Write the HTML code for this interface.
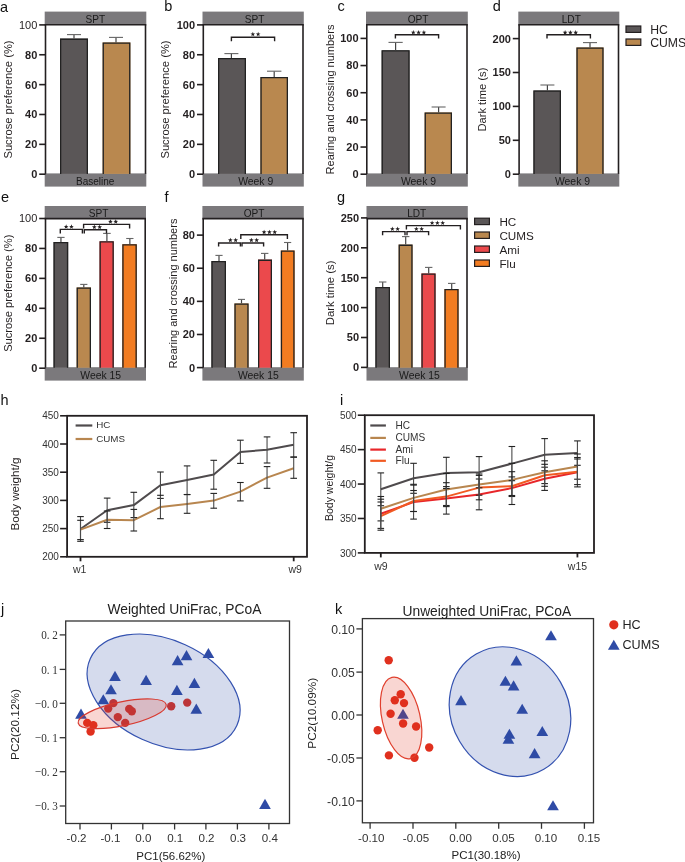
<!DOCTYPE html>
<html><head><meta charset="utf-8"><style>
html,body{margin:0;padding:0;background:#fff;}
svg{display:block;will-change:transform;}

</style></head><body>
<svg width="685" height="862" viewBox="0 0 685 862">
<rect x="44.7" y="11.6" width="101.6" height="13.2" fill="#7b797c" stroke="none" stroke-width="0"/>
<rect x="44.7" y="173.4" width="101.6" height="13.2" fill="#7b797c" stroke="none" stroke-width="0"/>
<text x="95.3" y="22.85" font-size="10.1" text-anchor="middle" font-weight="normal" fill="#1a1a1a" font-family='"Liberation Sans", sans-serif' >SPT</text>
<text x="95.2" y="184.8" font-size="10.0" text-anchor="middle" font-weight="normal" fill="#1a1a1a" font-family='"Liberation Sans", sans-serif' >Baseline</text>
<rect x="60" y="38.6" width="28" height="135.3" fill="#5a5657" stroke="none" stroke-width="0"/>
<polyline points="60.65,173.9 60.65,39.25 87.35,39.25 87.35,173.9" fill="none" stroke="#222" stroke-width="1.3"/>
<rect x="102.6" y="42.4" width="27.8" height="131.5" fill="#b9884f" stroke="none" stroke-width="0"/>
<polyline points="103.25,173.9 103.25,43.05 129.75,43.05 129.75,173.9" fill="none" stroke="#222" stroke-width="1.3"/>
<line x1="74.0" y1="34.6" x2="74.0" y2="38.6" stroke="#444" stroke-width="1.2" />
<line x1="67" y1="34.6" x2="81" y2="34.6" stroke="#666" stroke-width="1.1" />
<line x1="116.0" y1="37.4" x2="116.0" y2="42.4" stroke="#444" stroke-width="1.2" />
<line x1="109" y1="37.4" x2="123" y2="37.4" stroke="#666" stroke-width="1.1" />
<line x1="45.5" y1="24.8" x2="45.5" y2="173.9" stroke="#231f20" stroke-width="1.6" />
<line x1="145.5" y1="24.8" x2="145.5" y2="173.9" stroke="#231f20" stroke-width="1.6" />
<line x1="44.7" y1="24.8" x2="146.3" y2="24.8" stroke="#231f20" stroke-width="1.6" />
<line x1="39.2" y1="174.2" x2="45.5" y2="174.2" stroke="#231f20" stroke-width="1.6" />
<text x="37.3" y="178.1" font-size="11" text-anchor="end" font-weight="bold" fill="#231f20" font-family='"Liberation Sans", sans-serif' >0</text>
<line x1="39.2" y1="144.34" x2="45.5" y2="144.34" stroke="#231f20" stroke-width="1.6" />
<text x="37.3" y="148.24" font-size="11" text-anchor="end" font-weight="bold" fill="#231f20" font-family='"Liberation Sans", sans-serif' >20</text>
<line x1="39.2" y1="114.48" x2="45.5" y2="114.48" stroke="#231f20" stroke-width="1.6" />
<text x="37.3" y="118.38" font-size="11" text-anchor="end" font-weight="bold" fill="#231f20" font-family='"Liberation Sans", sans-serif' >40</text>
<line x1="39.2" y1="84.62" x2="45.5" y2="84.62" stroke="#231f20" stroke-width="1.6" />
<text x="37.3" y="88.52" font-size="11" text-anchor="end" font-weight="bold" fill="#231f20" font-family='"Liberation Sans", sans-serif' >60</text>
<line x1="39.2" y1="54.76" x2="45.5" y2="54.76" stroke="#231f20" stroke-width="1.6" />
<text x="37.3" y="58.66" font-size="11" text-anchor="end" font-weight="bold" fill="#231f20" font-family='"Liberation Sans", sans-serif' >80</text>
<line x1="39.2" y1="24.9" x2="45.5" y2="24.9" stroke="#231f20" stroke-width="1.6" />
<text x="37.3" y="28.8" font-size="11" text-anchor="end" font-weight="normal" fill="#231f20" font-family='"Liberation Sans", sans-serif' >100</text>
<text x="0" y="0" font-size="11.2" text-anchor="middle" font-weight="normal" fill="#231f20" font-family='"Liberation Sans", sans-serif' transform="translate(8.0,99.5) rotate(-90)" dominant-baseline="central">Sucrose preference (%)</text>
<rect x="202.5" y="11.6" width="101.3" height="13.2" fill="#7b797c" stroke="none" stroke-width="0"/>
<rect x="202.5" y="173.4" width="101.3" height="13.2" fill="#7b797c" stroke="none" stroke-width="0"/>
<text x="254.5" y="22.85" font-size="10.1" text-anchor="middle" font-weight="normal" fill="#1a1a1a" font-family='"Liberation Sans", sans-serif' >SPT</text>
<text x="255.7" y="184.8" font-size="10.4" text-anchor="middle" font-weight="normal" fill="#1a1a1a" font-family='"Liberation Sans", sans-serif' >Week 9</text>
<rect x="218" y="58" width="28" height="115.9" fill="#5a5657" stroke="none" stroke-width="0"/>
<polyline points="218.65,173.9 218.65,58.65 245.35,58.65 245.35,173.9" fill="none" stroke="#222" stroke-width="1.3"/>
<rect x="260.4" y="77" width="27.6" height="96.9" fill="#b9884f" stroke="none" stroke-width="0"/>
<polyline points="261.05,173.9 261.05,77.65 287.35,77.65 287.35,173.9" fill="none" stroke="#222" stroke-width="1.3"/>
<line x1="231.4" y1="53.6" x2="231.4" y2="58" stroke="#444" stroke-width="1.2" />
<line x1="224.4" y1="53.6" x2="238.4" y2="53.6" stroke="#666" stroke-width="1.1" />
<line x1="274.2" y1="71.2" x2="274.2" y2="77" stroke="#444" stroke-width="1.2" />
<line x1="267" y1="71.2" x2="281.4" y2="71.2" stroke="#666" stroke-width="1.1" />
<line x1="203.3" y1="24.8" x2="203.3" y2="173.9" stroke="#231f20" stroke-width="1.6" />
<line x1="303" y1="24.8" x2="303" y2="173.9" stroke="#231f20" stroke-width="1.6" />
<line x1="202.5" y1="24.8" x2="303.8" y2="24.8" stroke="#231f20" stroke-width="1.6" />
<line x1="197.0" y1="174.2" x2="203.3" y2="174.2" stroke="#231f20" stroke-width="1.6" />
<text x="195.1" y="178.1" font-size="11" text-anchor="end" font-weight="bold" fill="#231f20" font-family='"Liberation Sans", sans-serif' >0</text>
<line x1="197.0" y1="144.34" x2="203.3" y2="144.34" stroke="#231f20" stroke-width="1.6" />
<text x="195.1" y="148.24" font-size="11" text-anchor="end" font-weight="bold" fill="#231f20" font-family='"Liberation Sans", sans-serif' >20</text>
<line x1="197.0" y1="114.48" x2="203.3" y2="114.48" stroke="#231f20" stroke-width="1.6" />
<text x="195.1" y="118.38" font-size="11" text-anchor="end" font-weight="bold" fill="#231f20" font-family='"Liberation Sans", sans-serif' >40</text>
<line x1="197.0" y1="84.62" x2="203.3" y2="84.62" stroke="#231f20" stroke-width="1.6" />
<text x="195.1" y="88.52" font-size="11" text-anchor="end" font-weight="bold" fill="#231f20" font-family='"Liberation Sans", sans-serif' >60</text>
<line x1="197.0" y1="54.76" x2="203.3" y2="54.76" stroke="#231f20" stroke-width="1.6" />
<text x="195.1" y="58.66" font-size="11" text-anchor="end" font-weight="bold" fill="#231f20" font-family='"Liberation Sans", sans-serif' >80</text>
<line x1="197.0" y1="24.9" x2="203.3" y2="24.9" stroke="#231f20" stroke-width="1.6" />
<text x="195.1" y="28.8" font-size="11" text-anchor="end" font-weight="bold" fill="#231f20" font-family='"Liberation Sans", sans-serif' >100</text>
<polyline points="231.4,41.2 231.4,37.3 274.6,37.3 274.6,41.2" fill="none" stroke="#231f20" stroke-width="1.4"/>
<polygon points="252.85,31.80 253.47,33.45 255.23,33.53 253.85,34.62 254.32,36.32 252.85,35.35 251.38,36.32 251.85,34.62 250.47,33.53 252.23,33.45" fill="#231f20"/>
<polygon points="258.15,31.80 258.77,33.45 260.53,33.53 259.15,34.62 259.62,36.32 258.15,35.35 256.68,36.32 257.15,34.62 255.77,33.53 257.53,33.45" fill="#231f20"/>
<text x="0" y="0" font-size="11.2" text-anchor="middle" font-weight="normal" fill="#231f20" font-family='"Liberation Sans", sans-serif' transform="translate(165.4,99.5) rotate(-90)" dominant-baseline="central">Sucrose preference (%)</text>
<rect x="366.0" y="11.6" width="101.8" height="13.2" fill="#7b797c" stroke="none" stroke-width="0"/>
<rect x="366.0" y="173.4" width="101.8" height="13.2" fill="#7b797c" stroke="none" stroke-width="0"/>
<text x="418" y="22.85" font-size="10.1" text-anchor="middle" font-weight="normal" fill="#1a1a1a" font-family='"Liberation Sans", sans-serif' >OPT</text>
<text x="418.5" y="184.8" font-size="10.4" text-anchor="middle" font-weight="normal" fill="#1a1a1a" font-family='"Liberation Sans", sans-serif' >Week 9</text>
<rect x="381.6" y="50.3" width="28.0" height="123.6" fill="#5a5657" stroke="none" stroke-width="0"/>
<polyline points="382.25,173.9 382.25,50.95 408.95,50.95 408.95,173.9" fill="none" stroke="#222" stroke-width="1.3"/>
<rect x="424.6" y="112.4" width="27.4" height="61.5" fill="#b9884f" stroke="none" stroke-width="0"/>
<polyline points="425.25,173.9 425.25,113.05 451.35,113.05 451.35,173.9" fill="none" stroke="#222" stroke-width="1.3"/>
<line x1="395.6" y1="42.4" x2="395.6" y2="50.3" stroke="#444" stroke-width="1.2" />
<line x1="388.5" y1="42.4" x2="402.7" y2="42.4" stroke="#666" stroke-width="1.1" />
<line x1="438.6" y1="107" x2="438.6" y2="112.4" stroke="#444" stroke-width="1.2" />
<line x1="431.6" y1="107" x2="445.6" y2="107" stroke="#666" stroke-width="1.1" />
<line x1="366.8" y1="24.8" x2="366.8" y2="173.9" stroke="#231f20" stroke-width="1.6" />
<line x1="467" y1="24.8" x2="467" y2="173.9" stroke="#231f20" stroke-width="1.6" />
<line x1="366.0" y1="24.8" x2="467.8" y2="24.8" stroke="#231f20" stroke-width="1.6" />
<line x1="360.5" y1="174.2" x2="366.8" y2="174.2" stroke="#231f20" stroke-width="1.6" />
<text x="358.6" y="178.1" font-size="11" text-anchor="end" font-weight="bold" fill="#231f20" font-family='"Liberation Sans", sans-serif' >0</text>
<line x1="360.5" y1="147.04" x2="366.8" y2="147.04" stroke="#231f20" stroke-width="1.6" />
<text x="358.6" y="150.94" font-size="11" text-anchor="end" font-weight="bold" fill="#231f20" font-family='"Liberation Sans", sans-serif' >20</text>
<line x1="360.5" y1="119.88" x2="366.8" y2="119.88" stroke="#231f20" stroke-width="1.6" />
<text x="358.6" y="123.78" font-size="11" text-anchor="end" font-weight="bold" fill="#231f20" font-family='"Liberation Sans", sans-serif' >40</text>
<line x1="360.5" y1="92.72" x2="366.8" y2="92.72" stroke="#231f20" stroke-width="1.6" />
<text x="358.6" y="96.62" font-size="11" text-anchor="end" font-weight="bold" fill="#231f20" font-family='"Liberation Sans", sans-serif' >60</text>
<line x1="360.5" y1="65.56" x2="366.8" y2="65.56" stroke="#231f20" stroke-width="1.6" />
<text x="358.6" y="69.46" font-size="11" text-anchor="end" font-weight="bold" fill="#231f20" font-family='"Liberation Sans", sans-serif' >80</text>
<line x1="360.5" y1="38.4" x2="366.8" y2="38.4" stroke="#231f20" stroke-width="1.6" />
<text x="358.6" y="42.3" font-size="11" text-anchor="end" font-weight="bold" fill="#231f20" font-family='"Liberation Sans", sans-serif' >100</text>
<polyline points="395.4,38.6 395.4,34.7 438.6,34.7 438.6,38.6" fill="none" stroke="#231f20" stroke-width="1.4"/>
<polygon points="413.30,30.00 413.92,31.65 415.68,31.73 414.30,32.82 414.77,34.52 413.30,33.55 411.83,34.52 412.30,32.82 410.92,31.73 412.68,31.65" fill="#231f20"/>
<polygon points="418.60,30.00 419.22,31.65 420.98,31.73 419.60,32.82 420.07,34.52 418.60,33.55 417.13,34.52 417.60,32.82 416.22,31.73 417.98,31.65" fill="#231f20"/>
<polygon points="423.90,30.00 424.52,31.65 426.28,31.73 424.90,32.82 425.37,34.52 423.90,33.55 422.43,34.52 422.90,32.82 421.52,31.73 423.28,31.65" fill="#231f20"/>
<text x="0" y="0" font-size="11" text-anchor="middle" font-weight="normal" fill="#231f20" font-family='"Liberation Sans", sans-serif' transform="translate(330.1,99.5) rotate(-90)" dominant-baseline="central">Rearing and crossing numbers</text>
<rect x="518.3" y="11.6" width="101" height="13.2" fill="#7b797c" stroke="none" stroke-width="0"/>
<rect x="518.3" y="173.4" width="101" height="13.2" fill="#7b797c" stroke="none" stroke-width="0"/>
<text x="571.3" y="22.85" font-size="10.1" text-anchor="middle" font-weight="normal" fill="#1a1a1a" font-family='"Liberation Sans", sans-serif' >LDT</text>
<text x="572.5" y="184.8" font-size="10.4" text-anchor="middle" font-weight="normal" fill="#1a1a1a" font-family='"Liberation Sans", sans-serif' >Week 9</text>
<rect x="533.4" y="90.4" width="27.6" height="83.5" fill="#5a5657" stroke="none" stroke-width="0"/>
<polyline points="534.05,173.9 534.05,91.05 560.35,91.05 560.35,173.9" fill="none" stroke="#222" stroke-width="1.3"/>
<rect x="576.4" y="47.4" width="27.2" height="126.5" fill="#b9884f" stroke="none" stroke-width="0"/>
<polyline points="577.05,173.9 577.05,48.05 602.95,48.05 602.95,173.9" fill="none" stroke="#222" stroke-width="1.3"/>
<line x1="547.4" y1="85" x2="547.4" y2="90.4" stroke="#444" stroke-width="1.2" />
<line x1="540.4" y1="85" x2="554.4" y2="85" stroke="#666" stroke-width="1.1" />
<line x1="590.0" y1="42.6" x2="590.0" y2="47.4" stroke="#444" stroke-width="1.2" />
<line x1="583" y1="42.6" x2="597" y2="42.6" stroke="#666" stroke-width="1.1" />
<line x1="519.1" y1="24.8" x2="519.1" y2="173.9" stroke="#231f20" stroke-width="1.6" />
<line x1="618.5" y1="24.8" x2="618.5" y2="173.9" stroke="#231f20" stroke-width="1.6" />
<line x1="518.3" y1="24.8" x2="619.3" y2="24.8" stroke="#231f20" stroke-width="1.6" />
<line x1="512.8" y1="174.2" x2="519.1" y2="174.2" stroke="#231f20" stroke-width="1.6" />
<text x="510.9" y="178.1" font-size="11" text-anchor="end" font-weight="bold" fill="#231f20" font-family='"Liberation Sans", sans-serif' >0</text>
<line x1="512.8" y1="140.3" x2="519.1" y2="140.3" stroke="#231f20" stroke-width="1.6" />
<text x="510.9" y="144.2" font-size="11" text-anchor="end" font-weight="bold" fill="#231f20" font-family='"Liberation Sans", sans-serif' >50</text>
<line x1="512.8" y1="106.4" x2="519.1" y2="106.4" stroke="#231f20" stroke-width="1.6" />
<text x="510.9" y="110.3" font-size="11" text-anchor="end" font-weight="bold" fill="#231f20" font-family='"Liberation Sans", sans-serif' >100</text>
<line x1="512.8" y1="72.5" x2="519.1" y2="72.5" stroke="#231f20" stroke-width="1.6" />
<text x="510.9" y="76.4" font-size="11" text-anchor="end" font-weight="bold" fill="#231f20" font-family='"Liberation Sans", sans-serif' >150</text>
<line x1="512.8" y1="38.6" x2="519.1" y2="38.6" stroke="#231f20" stroke-width="1.6" />
<text x="510.9" y="42.5" font-size="11" text-anchor="end" font-weight="bold" fill="#231f20" font-family='"Liberation Sans", sans-serif' >200</text>
<polyline points="547,38.6 547,34.8 590.4,34.8 590.4,38.6" fill="none" stroke="#231f20" stroke-width="1.4"/>
<polygon points="565.10,30.10 565.72,31.75 567.48,31.83 566.10,32.92 566.57,34.62 565.10,33.65 563.63,34.62 564.10,32.92 562.72,31.83 564.48,31.75" fill="#231f20"/>
<polygon points="570.40,30.10 571.02,31.75 572.78,31.83 571.40,32.92 571.87,34.62 570.40,33.65 568.93,34.62 569.40,32.92 568.02,31.83 569.78,31.75" fill="#231f20"/>
<polygon points="575.70,30.10 576.32,31.75 578.08,31.83 576.70,32.92 577.17,34.62 575.70,33.65 574.23,34.62 574.70,32.92 573.32,31.83 575.08,31.75" fill="#231f20"/>
<text x="0" y="0" font-size="11.2" text-anchor="middle" font-weight="normal" fill="#231f20" font-family='"Liberation Sans", sans-serif' transform="translate(482.0,99.6) rotate(-90)" dominant-baseline="central">Dark time (s)</text>
<rect x="44.7" y="206.0" width="101.3" height="12.6" fill="#7b797c" stroke="none" stroke-width="0"/>
<rect x="44.7" y="367.2" width="101.3" height="13.4" fill="#7b797c" stroke="none" stroke-width="0"/>
<text x="98.6" y="216.65" font-size="10.1" text-anchor="middle" font-weight="normal" fill="#1a1a1a" font-family='"Liberation Sans", sans-serif' >SPT</text>
<text x="100.7" y="378.8" font-size="10.4" text-anchor="middle" font-weight="normal" fill="#1a1a1a" font-family='"Liberation Sans", sans-serif' >Week 15</text>
<rect x="53.5" y="242" width="14.7" height="125.7" fill="#5a5657" stroke="none" stroke-width="0"/>
<polyline points="54.15,367.7 54.15,242.65 67.55,242.65 67.55,367.7" fill="none" stroke="#222" stroke-width="1.3"/>
<rect x="76.6" y="287.4" width="14.4" height="80.3" fill="#b9884f" stroke="none" stroke-width="0"/>
<polyline points="77.25,367.7 77.25,288.05 90.35,288.05 90.35,367.7" fill="none" stroke="#222" stroke-width="1.3"/>
<rect x="99.5" y="241.3" width="14.3" height="126.4" fill="#eb494c" stroke="none" stroke-width="0"/>
<polyline points="100.15,367.7 100.15,241.95 113.15,241.95 113.15,367.7" fill="none" stroke="#222" stroke-width="1.3"/>
<rect x="122.3" y="244.2" width="14.5" height="123.5" fill="#f27c21" stroke="none" stroke-width="0"/>
<polyline points="122.95,367.7 122.95,244.85 136.15,244.85 136.15,367.7" fill="none" stroke="#222" stroke-width="1.3"/>
<line x1="60.95" y1="237.4" x2="60.95" y2="242" stroke="#444" stroke-width="1.2" />
<line x1="57.3" y1="237.4" x2="64.6" y2="237.4" stroke="#666" stroke-width="1.1" />
<line x1="83.8" y1="284.4" x2="83.8" y2="287.4" stroke="#444" stroke-width="1.2" />
<line x1="80.2" y1="284.4" x2="87.4" y2="284.4" stroke="#666" stroke-width="1.1" />
<line x1="106.9" y1="233.4" x2="106.9" y2="241.3" stroke="#444" stroke-width="1.2" />
<line x1="103.1" y1="233.4" x2="110.7" y2="233.4" stroke="#666" stroke-width="1.1" />
<line x1="129.85" y1="238.5" x2="129.85" y2="244.2" stroke="#444" stroke-width="1.2" />
<line x1="126.2" y1="238.5" x2="133.5" y2="238.5" stroke="#666" stroke-width="1.1" />
<line x1="45.5" y1="218.6" x2="45.5" y2="367.7" stroke="#231f20" stroke-width="1.6" />
<line x1="145.2" y1="218.6" x2="145.2" y2="367.7" stroke="#231f20" stroke-width="1.6" />
<line x1="44.7" y1="218.6" x2="146.0" y2="218.6" stroke="#231f20" stroke-width="1.6" />
<line x1="39.2" y1="368.2" x2="45.5" y2="368.2" stroke="#231f20" stroke-width="1.6" />
<text x="37.3" y="372.1" font-size="11" text-anchor="end" font-weight="bold" fill="#231f20" font-family='"Liberation Sans", sans-serif' >0</text>
<line x1="39.2" y1="338.26" x2="45.5" y2="338.26" stroke="#231f20" stroke-width="1.6" />
<text x="37.3" y="342.16" font-size="11" text-anchor="end" font-weight="bold" fill="#231f20" font-family='"Liberation Sans", sans-serif' >20</text>
<line x1="39.2" y1="308.32" x2="45.5" y2="308.32" stroke="#231f20" stroke-width="1.6" />
<text x="37.3" y="312.22" font-size="11" text-anchor="end" font-weight="bold" fill="#231f20" font-family='"Liberation Sans", sans-serif' >40</text>
<line x1="39.2" y1="278.38" x2="45.5" y2="278.38" stroke="#231f20" stroke-width="1.6" />
<text x="37.3" y="282.28" font-size="11" text-anchor="end" font-weight="bold" fill="#231f20" font-family='"Liberation Sans", sans-serif' >60</text>
<line x1="39.2" y1="248.44" x2="45.5" y2="248.44" stroke="#231f20" stroke-width="1.6" />
<text x="37.3" y="252.34" font-size="11" text-anchor="end" font-weight="bold" fill="#231f20" font-family='"Liberation Sans", sans-serif' >80</text>
<line x1="39.2" y1="218.5" x2="45.5" y2="218.5" stroke="#231f20" stroke-width="1.6" />
<text x="37.3" y="222.4" font-size="11" text-anchor="end" font-weight="normal" fill="#231f20" font-family='"Liberation Sans", sans-serif' >100</text>
<polyline points="60.3,233.5 60.3,229.4 82.4,229.4 82.4,233.5" fill="none" stroke="#231f20" stroke-width="1.4"/>
<polygon points="66.15,224.30 66.77,225.95 68.53,226.03 67.15,227.12 67.62,228.82 66.15,227.85 64.68,228.82 65.15,227.12 63.77,226.03 65.53,225.95" fill="#231f20"/>
<polygon points="71.45,224.30 72.07,225.95 73.83,226.03 72.45,227.12 72.92,228.82 71.45,227.85 69.98,228.82 70.45,227.12 69.07,226.03 70.83,225.95" fill="#231f20"/>
<polyline points="84.3,233.5 84.3,229.7 106.5,229.7 106.5,233.5" fill="none" stroke="#231f20" stroke-width="1.4"/>
<polygon points="94.35,224.60 94.97,226.25 96.73,226.33 95.35,227.42 95.82,229.12 94.35,228.15 92.88,229.12 93.35,227.42 91.97,226.33 93.73,226.25" fill="#231f20"/>
<polygon points="99.65,224.60 100.27,226.25 102.03,226.33 100.65,227.42 101.12,229.12 99.65,228.15 98.18,229.12 98.65,227.42 97.27,226.33 99.03,226.25" fill="#231f20"/>
<polyline points="83.6,228.5 83.6,224.4 129.6,224.4 129.6,228.5" fill="none" stroke="#231f20" stroke-width="1.4"/>
<polygon points="110.45,219.20 111.07,220.85 112.83,220.93 111.45,222.02 111.92,223.72 110.45,222.75 108.98,223.72 109.45,222.02 108.07,220.93 109.83,220.85" fill="#231f20"/>
<polygon points="115.75,219.20 116.37,220.85 118.13,220.93 116.75,222.02 117.22,223.72 115.75,222.75 114.28,223.72 114.75,222.02 113.37,220.93 115.13,220.85" fill="#231f20"/>
<text x="0" y="0" font-size="11.1" text-anchor="middle" font-weight="normal" fill="#231f20" font-family='"Liberation Sans", sans-serif' transform="translate(8.1,293.2) rotate(-90)" dominant-baseline="central">Sucrose preference (%)</text>
<rect x="202.4" y="206.0" width="101.4" height="12.6" fill="#7b797c" stroke="none" stroke-width="0"/>
<rect x="202.4" y="367.2" width="101.4" height="13.4" fill="#7b797c" stroke="none" stroke-width="0"/>
<text x="254" y="216.65" font-size="10.1" text-anchor="middle" font-weight="normal" fill="#1a1a1a" font-family='"Liberation Sans", sans-serif' >OPT</text>
<text x="258.3" y="378.8" font-size="10.4" text-anchor="middle" font-weight="normal" fill="#1a1a1a" font-family='"Liberation Sans", sans-serif' >Week 15</text>
<rect x="211.4" y="261" width="14.6" height="106.7" fill="#5a5657" stroke="none" stroke-width="0"/>
<polyline points="212.05,367.7 212.05,261.65 225.35,261.65 225.35,367.7" fill="none" stroke="#222" stroke-width="1.3"/>
<rect x="234.4" y="303.4" width="14.2" height="64.3" fill="#b9884f" stroke="none" stroke-width="0"/>
<polyline points="235.05,367.7 235.05,304.05 247.95,304.05 247.95,367.7" fill="none" stroke="#222" stroke-width="1.3"/>
<rect x="258" y="259.6" width="14" height="108.1" fill="#eb494c" stroke="none" stroke-width="0"/>
<polyline points="258.65,367.7 258.65,260.25 271.35,260.25 271.35,367.7" fill="none" stroke="#222" stroke-width="1.3"/>
<rect x="280.8" y="250.5" width="13.8" height="117.2" fill="#f27c21" stroke="none" stroke-width="0"/>
<polyline points="281.45,367.7 281.45,251.15 293.95,251.15 293.95,367.7" fill="none" stroke="#222" stroke-width="1.3"/>
<line x1="219.0" y1="255.4" x2="219.0" y2="261" stroke="#444" stroke-width="1.2" />
<line x1="215.4" y1="255.4" x2="222.6" y2="255.4" stroke="#666" stroke-width="1.1" />
<line x1="241.5" y1="299.4" x2="241.5" y2="303.4" stroke="#444" stroke-width="1.2" />
<line x1="238" y1="299.4" x2="245" y2="299.4" stroke="#666" stroke-width="1.1" />
<line x1="264.7" y1="253.4" x2="264.7" y2="259.6" stroke="#444" stroke-width="1.2" />
<line x1="261" y1="253.4" x2="268.4" y2="253.4" stroke="#666" stroke-width="1.1" />
<line x1="287.6" y1="242.5" x2="287.6" y2="250.5" stroke="#444" stroke-width="1.2" />
<line x1="284" y1="242.5" x2="291.2" y2="242.5" stroke="#666" stroke-width="1.1" />
<line x1="203.2" y1="218.6" x2="203.2" y2="367.7" stroke="#231f20" stroke-width="1.6" />
<line x1="303" y1="218.6" x2="303" y2="367.7" stroke="#231f20" stroke-width="1.6" />
<line x1="202.4" y1="218.6" x2="303.8" y2="218.6" stroke="#231f20" stroke-width="1.6" />
<line x1="196.9" y1="367.6" x2="203.2" y2="367.6" stroke="#231f20" stroke-width="1.6" />
<text x="195.0" y="371.5" font-size="11" text-anchor="end" font-weight="bold" fill="#231f20" font-family='"Liberation Sans", sans-serif' >0</text>
<line x1="196.9" y1="334.48" x2="203.2" y2="334.48" stroke="#231f20" stroke-width="1.6" />
<text x="195.0" y="338.38" font-size="11" text-anchor="end" font-weight="bold" fill="#231f20" font-family='"Liberation Sans", sans-serif' >20</text>
<line x1="196.9" y1="301.36" x2="203.2" y2="301.36" stroke="#231f20" stroke-width="1.6" />
<text x="195.0" y="305.26" font-size="11" text-anchor="end" font-weight="bold" fill="#231f20" font-family='"Liberation Sans", sans-serif' >40</text>
<line x1="196.9" y1="268.24" x2="203.2" y2="268.24" stroke="#231f20" stroke-width="1.6" />
<text x="195.0" y="272.14" font-size="11" text-anchor="end" font-weight="bold" fill="#231f20" font-family='"Liberation Sans", sans-serif' >60</text>
<line x1="196.9" y1="235.12" x2="203.2" y2="235.12" stroke="#231f20" stroke-width="1.6" />
<text x="195.0" y="239.02" font-size="11" text-anchor="end" font-weight="bold" fill="#231f20" font-family='"Liberation Sans", sans-serif' >80</text>
<polyline points="218.6,246.6 218.6,243 240.4,243 240.4,246.6" fill="none" stroke="#231f20" stroke-width="1.4"/>
<polygon points="230.35,237.70 230.97,239.35 232.73,239.43 231.35,240.52 231.82,242.22 230.35,241.25 228.88,242.22 229.35,240.52 227.97,239.43 229.73,239.35" fill="#231f20"/>
<polygon points="235.65,237.70 236.27,239.35 238.03,239.43 236.65,240.52 237.12,242.22 235.65,241.25 234.18,242.22 234.65,240.52 233.27,239.43 235.03,239.35" fill="#231f20"/>
<polyline points="242,246.6 242,243 263.6,243 263.6,246.6" fill="none" stroke="#231f20" stroke-width="1.4"/>
<polygon points="251.35,237.70 251.97,239.35 253.73,239.43 252.35,240.52 252.82,242.22 251.35,241.25 249.88,242.22 250.35,240.52 248.97,239.43 250.73,239.35" fill="#231f20"/>
<polygon points="256.65,237.70 257.27,239.35 259.03,239.43 257.65,240.52 258.12,242.22 256.65,241.25 255.18,242.22 255.65,240.52 254.27,239.43 256.03,239.35" fill="#231f20"/>
<polyline points="240.8,239 240.8,234.7 287.4,234.7 287.4,239" fill="none" stroke="#231f20" stroke-width="1.4"/>
<polygon points="264.10,229.70 264.72,231.35 266.48,231.43 265.10,232.52 265.57,234.22 264.10,233.25 262.63,234.22 263.10,232.52 261.72,231.43 263.48,231.35" fill="#231f20"/>
<polygon points="269.40,229.70 270.02,231.35 271.78,231.43 270.40,232.52 270.87,234.22 269.40,233.25 267.93,234.22 268.40,232.52 267.02,231.43 268.78,231.35" fill="#231f20"/>
<polygon points="274.70,229.70 275.32,231.35 277.08,231.43 275.70,232.52 276.17,234.22 274.70,233.25 273.23,234.22 273.70,232.52 272.32,231.43 274.08,231.35" fill="#231f20"/>
<text x="0" y="0" font-size="11" text-anchor="middle" font-weight="normal" fill="#231f20" font-family='"Liberation Sans", sans-serif' transform="translate(173.0,293.5) rotate(-90)" dominant-baseline="central">Rearing and crossing numbers</text>
<rect x="366.5" y="206.0" width="101.3" height="12.6" fill="#7b797c" stroke="none" stroke-width="0"/>
<rect x="366.5" y="367.2" width="101.3" height="13.4" fill="#7b797c" stroke="none" stroke-width="0"/>
<text x="416.7" y="216.65" font-size="10.1" text-anchor="middle" font-weight="normal" fill="#1a1a1a" font-family='"Liberation Sans", sans-serif' >LDT</text>
<text x="419.5" y="378.8" font-size="10.4" text-anchor="middle" font-weight="normal" fill="#1a1a1a" font-family='"Liberation Sans", sans-serif' >Week 15</text>
<rect x="375.4" y="287" width="14.6" height="80.7" fill="#5a5657" stroke="none" stroke-width="0"/>
<polyline points="376.05,367.7 376.05,287.65 389.35,287.65 389.35,367.7" fill="none" stroke="#222" stroke-width="1.3"/>
<rect x="398.6" y="244.6" width="14.0" height="123.1" fill="#b9884f" stroke="none" stroke-width="0"/>
<polyline points="399.25,367.7 399.25,245.25 411.95,245.25 411.95,367.7" fill="none" stroke="#222" stroke-width="1.3"/>
<rect x="421.4" y="273.4" width="14.2" height="94.3" fill="#eb494c" stroke="none" stroke-width="0"/>
<polyline points="422.05,367.7 422.05,274.05 434.95,274.05 434.95,367.7" fill="none" stroke="#222" stroke-width="1.3"/>
<rect x="444.4" y="289" width="14.2" height="78.7" fill="#f27c21" stroke="none" stroke-width="0"/>
<polyline points="445.05,367.7 445.05,289.65 457.95,289.65 457.95,367.7" fill="none" stroke="#222" stroke-width="1.3"/>
<line x1="382.7" y1="282" x2="382.7" y2="287" stroke="#444" stroke-width="1.2" />
<line x1="379" y1="282" x2="386.4" y2="282" stroke="#666" stroke-width="1.1" />
<line x1="405.7" y1="236.6" x2="405.7" y2="244.6" stroke="#444" stroke-width="1.2" />
<line x1="402" y1="236.6" x2="409.4" y2="236.6" stroke="#666" stroke-width="1.1" />
<line x1="428.7" y1="267.4" x2="428.7" y2="273.4" stroke="#444" stroke-width="1.2" />
<line x1="425" y1="267.4" x2="432.4" y2="267.4" stroke="#666" stroke-width="1.1" />
<line x1="451.7" y1="283.4" x2="451.7" y2="289" stroke="#444" stroke-width="1.2" />
<line x1="448" y1="283.4" x2="455.4" y2="283.4" stroke="#666" stroke-width="1.1" />
<line x1="367.3" y1="218.6" x2="367.3" y2="367.7" stroke="#231f20" stroke-width="1.6" />
<line x1="467" y1="218.6" x2="467" y2="367.7" stroke="#231f20" stroke-width="1.6" />
<line x1="366.5" y1="218.6" x2="467.8" y2="218.6" stroke="#231f20" stroke-width="1.6" />
<line x1="361.0" y1="367.4" x2="367.3" y2="367.4" stroke="#231f20" stroke-width="1.6" />
<text x="359.1" y="371.3" font-size="11" text-anchor="end" font-weight="bold" fill="#231f20" font-family='"Liberation Sans", sans-serif' >0</text>
<line x1="361.0" y1="337.5" x2="367.3" y2="337.5" stroke="#231f20" stroke-width="1.6" />
<text x="359.1" y="341.4" font-size="11" text-anchor="end" font-weight="bold" fill="#231f20" font-family='"Liberation Sans", sans-serif' >50</text>
<line x1="361.0" y1="307.6" x2="367.3" y2="307.6" stroke="#231f20" stroke-width="1.6" />
<text x="359.1" y="311.5" font-size="11" text-anchor="end" font-weight="bold" fill="#231f20" font-family='"Liberation Sans", sans-serif' >100</text>
<line x1="361.0" y1="277.7" x2="367.3" y2="277.7" stroke="#231f20" stroke-width="1.6" />
<text x="359.1" y="281.6" font-size="11" text-anchor="end" font-weight="bold" fill="#231f20" font-family='"Liberation Sans", sans-serif' >150</text>
<line x1="361.0" y1="247.8" x2="367.3" y2="247.8" stroke="#231f20" stroke-width="1.6" />
<text x="359.1" y="251.7" font-size="11" text-anchor="end" font-weight="bold" fill="#231f20" font-family='"Liberation Sans", sans-serif' >200</text>
<line x1="361.0" y1="217.9" x2="367.3" y2="217.9" stroke="#231f20" stroke-width="1.6" />
<text x="359.1" y="221.8" font-size="11" text-anchor="end" font-weight="bold" fill="#231f20" font-family='"Liberation Sans", sans-serif' >250</text>
<polyline points="382.6,235.2 382.6,231.6 405,231.6 405,235.2" fill="none" stroke="#231f20" stroke-width="1.4"/>
<polygon points="392.35,226.50 392.97,228.15 394.73,228.23 393.35,229.32 393.82,231.02 392.35,230.05 390.88,231.02 391.35,229.32 389.97,228.23 391.73,228.15" fill="#231f20"/>
<polygon points="397.65,226.50 398.27,228.15 400.03,228.23 398.65,229.32 399.12,231.02 397.65,230.05 396.18,231.02 396.65,229.32 395.27,228.23 397.03,228.15" fill="#231f20"/>
<polyline points="407,235.2 407,231.6 428.6,231.6 428.6,235.2" fill="none" stroke="#231f20" stroke-width="1.4"/>
<polygon points="416.35,226.50 416.97,228.15 418.73,228.23 417.35,229.32 417.82,231.02 416.35,230.05 414.88,231.02 415.35,229.32 413.97,228.23 415.73,228.15" fill="#231f20"/>
<polygon points="421.65,226.50 422.27,228.15 424.03,228.23 422.65,229.32 423.12,231.02 421.65,230.05 420.18,231.02 420.65,229.32 419.27,228.23 421.03,228.15" fill="#231f20"/>
<polyline points="406.4,229.6 406.4,225.6 460.4,225.6 460.4,229.6" fill="none" stroke="#231f20" stroke-width="1.4"/>
<polygon points="432.10,220.50 432.72,222.15 434.48,222.23 433.10,223.32 433.57,225.02 432.10,224.05 430.63,225.02 431.10,223.32 429.72,222.23 431.48,222.15" fill="#231f20"/>
<polygon points="437.40,220.50 438.02,222.15 439.78,222.23 438.40,223.32 438.87,225.02 437.40,224.05 435.93,225.02 436.40,223.32 435.02,222.23 436.78,222.15" fill="#231f20"/>
<polygon points="442.70,220.50 443.32,222.15 445.08,222.23 443.70,223.32 444.17,225.02 442.70,224.05 441.23,225.02 441.70,223.32 440.32,222.23 442.08,222.15" fill="#231f20"/>
<text x="0" y="0" font-size="11.3" text-anchor="middle" font-weight="normal" fill="#231f20" font-family='"Liberation Sans", sans-serif' transform="translate(329.8,292.9) rotate(-90)" dominant-baseline="central">Dark time (s)</text>
<rect x="626.0" y="26.0" width="14.8" height="6.4" fill="#5a5657" stroke="#231f20" stroke-width="1.2"/>
<text x="650.2" y="33.7" font-size="12.2" text-anchor="start" font-weight="normal" fill="#231f20" font-family='"Liberation Sans", sans-serif' >HC</text>
<rect x="626.0" y="39.0" width="14.8" height="6.4" fill="#b9884f" stroke="#231f20" stroke-width="1.2"/>
<text x="650.2" y="46.7" font-size="12.2" text-anchor="start" font-weight="normal" fill="#231f20" font-family='"Liberation Sans", sans-serif' >CUMS</text>
<rect x="474.6" y="218.2" width="14.8" height="6.4" fill="#5a5657" stroke="#231f20" stroke-width="1.2"/>
<text x="499.4" y="225.9" font-size="11.7" text-anchor="start" font-weight="normal" fill="#231f20" font-family='"Liberation Sans", sans-serif' >HC</text>
<rect x="474.6" y="232.0" width="14.8" height="6.4" fill="#b9884f" stroke="#231f20" stroke-width="1.2"/>
<text x="499.4" y="239.7" font-size="11.7" text-anchor="start" font-weight="normal" fill="#231f20" font-family='"Liberation Sans", sans-serif' >CUMS</text>
<rect x="474.6" y="246.0" width="14.8" height="6.4" fill="#eb494c" stroke="#231f20" stroke-width="1.2"/>
<text x="499.4" y="253.7" font-size="11.7" text-anchor="start" font-weight="normal" fill="#231f20" font-family='"Liberation Sans", sans-serif' >Ami</text>
<rect x="474.6" y="260.0" width="14.8" height="6.4" fill="#f27c21" stroke="#231f20" stroke-width="1.2"/>
<text x="499.4" y="267.7" font-size="11.7" text-anchor="start" font-weight="normal" fill="#231f20" font-family='"Liberation Sans", sans-serif' >Flu</text>
<polyline points="80.5,529.0 107.2,510.3 133.8,505.1 160.4,485.3 187.1,480.1 213.8,474.6 240.4,451.9 267.0,449.8 293.7,444.8" fill="none" stroke="#4f4b4d" stroke-width="2.0" stroke-linejoin="round"/>
<polyline points="80.5,529.6 107.2,519.7 133.8,520.2 160.4,507.0 187.1,504.0 213.8,500.6 240.4,491.6 267.0,477.6 293.7,468.2" fill="none" stroke="#b8864f" stroke-width="2.0" stroke-linejoin="round"/>
<line x1="80.5" y1="516.6" x2="80.5" y2="541.3" stroke="#4a4a4a" stroke-width="1.1" />
<line x1="77.2" y1="516.6" x2="83.8" y2="516.6" stroke="#222" stroke-width="1.1" />
<line x1="77.2" y1="541.3" x2="83.8" y2="541.3" stroke="#222" stroke-width="1.1" />
<line x1="107.15" y1="498.1" x2="107.15" y2="522.3" stroke="#4a4a4a" stroke-width="1.1" />
<line x1="103.85" y1="498.1" x2="110.45" y2="498.1" stroke="#222" stroke-width="1.1" />
<line x1="103.85" y1="522.3" x2="110.45" y2="522.3" stroke="#222" stroke-width="1.1" />
<line x1="133.8" y1="492.3" x2="133.8" y2="517.6" stroke="#4a4a4a" stroke-width="1.1" />
<line x1="130.5" y1="492.3" x2="137.1" y2="492.3" stroke="#222" stroke-width="1.1" />
<line x1="130.5" y1="517.6" x2="137.1" y2="517.6" stroke="#222" stroke-width="1.1" />
<line x1="160.45" y1="472" x2="160.45" y2="498.4" stroke="#4a4a4a" stroke-width="1.1" />
<line x1="157.15" y1="472" x2="163.75" y2="472" stroke="#222" stroke-width="1.1" />
<line x1="157.15" y1="498.4" x2="163.75" y2="498.4" stroke="#222" stroke-width="1.1" />
<line x1="187.1" y1="465.9" x2="187.1" y2="494.5" stroke="#4a4a4a" stroke-width="1.1" />
<line x1="183.8" y1="465.9" x2="190.4" y2="465.9" stroke="#222" stroke-width="1.1" />
<line x1="183.8" y1="494.5" x2="190.4" y2="494.5" stroke="#222" stroke-width="1.1" />
<line x1="213.75" y1="460.3" x2="213.75" y2="489.2" stroke="#4a4a4a" stroke-width="1.1" />
<line x1="210.45" y1="460.3" x2="217.05" y2="460.3" stroke="#222" stroke-width="1.1" />
<line x1="210.45" y1="489.2" x2="217.05" y2="489.2" stroke="#222" stroke-width="1.1" />
<line x1="240.4" y1="440.2" x2="240.4" y2="463.4" stroke="#4a4a4a" stroke-width="1.1" />
<line x1="237.1" y1="440.2" x2="243.7" y2="440.2" stroke="#222" stroke-width="1.1" />
<line x1="237.1" y1="463.4" x2="243.7" y2="463.4" stroke="#222" stroke-width="1.1" />
<line x1="267.05" y1="436.9" x2="267.05" y2="463" stroke="#4a4a4a" stroke-width="1.1" />
<line x1="263.75" y1="436.9" x2="270.35" y2="436.9" stroke="#222" stroke-width="1.1" />
<line x1="263.75" y1="463" x2="270.35" y2="463" stroke="#222" stroke-width="1.1" />
<line x1="293.7" y1="432.7" x2="293.7" y2="457" stroke="#4a4a4a" stroke-width="1.1" />
<line x1="290.4" y1="432.7" x2="297.0" y2="432.7" stroke="#222" stroke-width="1.1" />
<line x1="290.4" y1="457" x2="297.0" y2="457" stroke="#222" stroke-width="1.1" />
<line x1="80.5" y1="520.3" x2="80.5" y2="539.6" stroke="#4a4a4a" stroke-width="1.1" />
<line x1="77.2" y1="520.3" x2="83.8" y2="520.3" stroke="#222" stroke-width="1.1" />
<line x1="77.2" y1="539.6" x2="83.8" y2="539.6" stroke="#222" stroke-width="1.1" />
<line x1="107.15" y1="511" x2="107.15" y2="528.5" stroke="#4a4a4a" stroke-width="1.1" />
<line x1="103.85" y1="511" x2="110.45" y2="511" stroke="#222" stroke-width="1.1" />
<line x1="103.85" y1="528.5" x2="110.45" y2="528.5" stroke="#222" stroke-width="1.1" />
<line x1="133.8" y1="509.4" x2="133.8" y2="531" stroke="#4a4a4a" stroke-width="1.1" />
<line x1="130.5" y1="509.4" x2="137.1" y2="509.4" stroke="#222" stroke-width="1.1" />
<line x1="130.5" y1="531" x2="137.1" y2="531" stroke="#222" stroke-width="1.1" />
<line x1="160.45" y1="495.3" x2="160.45" y2="518.7" stroke="#4a4a4a" stroke-width="1.1" />
<line x1="157.15" y1="495.3" x2="163.75" y2="495.3" stroke="#222" stroke-width="1.1" />
<line x1="157.15" y1="518.7" x2="163.75" y2="518.7" stroke="#222" stroke-width="1.1" />
<line x1="187.1" y1="494.6" x2="187.1" y2="513.3" stroke="#4a4a4a" stroke-width="1.1" />
<line x1="183.8" y1="494.6" x2="190.4" y2="494.6" stroke="#222" stroke-width="1.1" />
<line x1="183.8" y1="513.3" x2="190.4" y2="513.3" stroke="#222" stroke-width="1.1" />
<line x1="213.75" y1="493.4" x2="213.75" y2="508.2" stroke="#4a4a4a" stroke-width="1.1" />
<line x1="210.45" y1="493.4" x2="217.05" y2="493.4" stroke="#222" stroke-width="1.1" />
<line x1="210.45" y1="508.2" x2="217.05" y2="508.2" stroke="#222" stroke-width="1.1" />
<line x1="240.4" y1="482.5" x2="240.4" y2="500.9" stroke="#4a4a4a" stroke-width="1.1" />
<line x1="237.1" y1="482.5" x2="243.7" y2="482.5" stroke="#222" stroke-width="1.1" />
<line x1="237.1" y1="500.9" x2="243.7" y2="500.9" stroke="#222" stroke-width="1.1" />
<line x1="267.05" y1="466.6" x2="267.05" y2="488.3" stroke="#4a4a4a" stroke-width="1.1" />
<line x1="263.75" y1="466.6" x2="270.35" y2="466.6" stroke="#222" stroke-width="1.1" />
<line x1="263.75" y1="488.3" x2="270.35" y2="488.3" stroke="#222" stroke-width="1.1" />
<line x1="293.7" y1="457.2" x2="293.7" y2="478.3" stroke="#4a4a4a" stroke-width="1.1" />
<line x1="290.4" y1="457.2" x2="297.0" y2="457.2" stroke="#222" stroke-width="1.1" />
<line x1="290.4" y1="478.3" x2="297.0" y2="478.3" stroke="#222" stroke-width="1.1" />
<rect x="67.1" y="415.8" width="239.9" height="141" fill="none" stroke="#231f20" stroke-width="1.8"/>
<line x1="60.1" y1="556.8" x2="67.1" y2="556.8" stroke="#231f20" stroke-width="1.6" />
<text x="58.9" y="560.4" font-size="10" text-anchor="end" font-weight="normal" fill="#333" font-family='"Liberation Sans", sans-serif' >200</text>
<line x1="60.1" y1="528.6" x2="67.1" y2="528.6" stroke="#231f20" stroke-width="1.6" />
<text x="58.9" y="532.2" font-size="10" text-anchor="end" font-weight="normal" fill="#333" font-family='"Liberation Sans", sans-serif' >250</text>
<line x1="60.1" y1="500.4" x2="67.1" y2="500.4" stroke="#231f20" stroke-width="1.6" />
<text x="58.9" y="504.0" font-size="10" text-anchor="end" font-weight="normal" fill="#333" font-family='"Liberation Sans", sans-serif' >300</text>
<line x1="60.1" y1="472.2" x2="67.1" y2="472.2" stroke="#231f20" stroke-width="1.6" />
<text x="58.9" y="475.8" font-size="10" text-anchor="end" font-weight="normal" fill="#333" font-family='"Liberation Sans", sans-serif' >350</text>
<line x1="60.1" y1="444.0" x2="67.1" y2="444.0" stroke="#231f20" stroke-width="1.6" />
<text x="58.9" y="447.6" font-size="10" text-anchor="end" font-weight="normal" fill="#333" font-family='"Liberation Sans", sans-serif' >400</text>
<line x1="60.1" y1="415.8" x2="67.1" y2="415.8" stroke="#231f20" stroke-width="1.6" />
<text x="58.9" y="419.4" font-size="10" text-anchor="end" font-weight="normal" fill="#333" font-family='"Liberation Sans", sans-serif' >450</text>
<line x1="80.5" y1="556.8" x2="80.5" y2="561.3" stroke="#231f20" stroke-width="1.8" />
<text x="79.6" y="572.5" font-size="10.5" text-anchor="middle" font-weight="normal" fill="#333" font-family='"Liberation Sans", sans-serif' >w1</text>
<line x1="293.7" y1="556.8" x2="293.7" y2="561.3" stroke="#231f20" stroke-width="1.8" />
<text x="295.1" y="572.6" font-size="10.5" text-anchor="middle" font-weight="normal" fill="#333" font-family='"Liberation Sans", sans-serif' >w9</text>
<line x1="75.6" y1="425.5" x2="92.3" y2="425.5" stroke="#4f4b4d" stroke-width="2.2" />
<text x="96.2" y="428.1" font-size="9.8" text-anchor="start" font-weight="normal" fill="#333" font-family='"Liberation Sans", sans-serif' >HC</text>
<line x1="75.6" y1="439" x2="92.3" y2="439" stroke="#b8864f" stroke-width="2.2" />
<text x="96.2" y="441.6" font-size="9.8" text-anchor="start" font-weight="normal" fill="#333" font-family='"Liberation Sans", sans-serif' >CUMS</text>
<text x="0" y="0" font-size="11.6" text-anchor="middle" font-weight="normal" fill="#231f20" font-family='"Liberation Sans", sans-serif' transform="translate(14.7,494) rotate(-90)" dominant-baseline="central">Body weight/g</text>
<polyline points="380.8,489.3 413.6,478.3 446.3,472.9 479.1,472.2 511.9,463.6 544.7,454.7 577.4,453.1" fill="none" stroke="#4f4b4d" stroke-width="2.0" stroke-linejoin="round"/>
<polyline points="380.8,508.7 413.6,497.9 446.3,489.5 479.1,484.6 511.9,479.9 544.7,472.2 577.4,466.6" fill="none" stroke="#b8864f" stroke-width="2.0" stroke-linejoin="round"/>
<polyline points="380.8,513.8 413.6,502.1 446.3,498.4 479.1,494.4 511.9,488.1 544.7,478.8 577.4,472.2" fill="none" stroke="#e8262a" stroke-width="2.0" stroke-linejoin="round"/>
<polyline points="380.8,516.1 413.6,501.0 446.3,496.6 479.1,487.6 511.9,486.2 544.7,475.3 577.4,471.8" fill="none" stroke="#f15a22" stroke-width="2.0" stroke-linejoin="round"/>
<line x1="380.8" y1="472.9" x2="380.8" y2="505.7" stroke="#4a4a4a" stroke-width="1.1" />
<line x1="377.5" y1="472.9" x2="384.1" y2="472.9" stroke="#222" stroke-width="1.1" />
<line x1="377.5" y1="505.7" x2="384.1" y2="505.7" stroke="#222" stroke-width="1.1" />
<line x1="413.57" y1="463.3" x2="413.57" y2="493.3" stroke="#4a4a4a" stroke-width="1.1" />
<line x1="410.27" y1="463.3" x2="416.87" y2="463.3" stroke="#222" stroke-width="1.1" />
<line x1="410.27" y1="493.3" x2="416.87" y2="493.3" stroke="#222" stroke-width="1.1" />
<line x1="446.34" y1="457.3" x2="446.34" y2="488.5" stroke="#4a4a4a" stroke-width="1.1" />
<line x1="443.04" y1="457.3" x2="449.64" y2="457.3" stroke="#222" stroke-width="1.1" />
<line x1="443.04" y1="488.5" x2="449.64" y2="488.5" stroke="#222" stroke-width="1.1" />
<line x1="479.11" y1="456.6" x2="479.11" y2="487.8" stroke="#4a4a4a" stroke-width="1.1" />
<line x1="475.81" y1="456.6" x2="482.41" y2="456.6" stroke="#222" stroke-width="1.1" />
<line x1="475.81" y1="487.8" x2="482.41" y2="487.8" stroke="#222" stroke-width="1.1" />
<line x1="511.88" y1="446.5" x2="511.88" y2="480.7" stroke="#4a4a4a" stroke-width="1.1" />
<line x1="508.58" y1="446.5" x2="515.18" y2="446.5" stroke="#222" stroke-width="1.1" />
<line x1="508.58" y1="480.7" x2="515.18" y2="480.7" stroke="#222" stroke-width="1.1" />
<line x1="544.65" y1="438.6" x2="544.65" y2="470.8" stroke="#4a4a4a" stroke-width="1.1" />
<line x1="541.35" y1="438.6" x2="547.95" y2="438.6" stroke="#222" stroke-width="1.1" />
<line x1="541.35" y1="470.8" x2="547.95" y2="470.8" stroke="#222" stroke-width="1.1" />
<line x1="577.42" y1="440.9" x2="577.42" y2="465.3" stroke="#4a4a4a" stroke-width="1.1" />
<line x1="574.12" y1="440.9" x2="580.72" y2="440.9" stroke="#222" stroke-width="1.1" />
<line x1="574.12" y1="465.3" x2="580.72" y2="465.3" stroke="#222" stroke-width="1.1" />
<line x1="380.8" y1="496.5" x2="380.8" y2="520.9" stroke="#4a4a4a" stroke-width="1.1" />
<line x1="377.5" y1="496.5" x2="384.1" y2="496.5" stroke="#222" stroke-width="1.1" />
<line x1="377.5" y1="520.9" x2="384.1" y2="520.9" stroke="#222" stroke-width="1.1" />
<line x1="413.57" y1="484.3" x2="413.57" y2="511.5" stroke="#4a4a4a" stroke-width="1.1" />
<line x1="410.27" y1="484.3" x2="416.87" y2="484.3" stroke="#222" stroke-width="1.1" />
<line x1="410.27" y1="511.5" x2="416.87" y2="511.5" stroke="#222" stroke-width="1.1" />
<line x1="446.34" y1="473.5" x2="446.34" y2="505.5" stroke="#4a4a4a" stroke-width="1.1" />
<line x1="443.04" y1="473.5" x2="449.64" y2="473.5" stroke="#222" stroke-width="1.1" />
<line x1="443.04" y1="505.5" x2="449.64" y2="505.5" stroke="#222" stroke-width="1.1" />
<line x1="479.11" y1="474.0" x2="479.11" y2="495.2" stroke="#4a4a4a" stroke-width="1.1" />
<line x1="475.81" y1="474.0" x2="482.41" y2="474.0" stroke="#222" stroke-width="1.1" />
<line x1="475.81" y1="495.2" x2="482.41" y2="495.2" stroke="#222" stroke-width="1.1" />
<line x1="511.88" y1="463.3" x2="511.88" y2="496.5" stroke="#4a4a4a" stroke-width="1.1" />
<line x1="508.58" y1="463.3" x2="515.18" y2="463.3" stroke="#222" stroke-width="1.1" />
<line x1="508.58" y1="496.5" x2="515.18" y2="496.5" stroke="#222" stroke-width="1.1" />
<line x1="544.65" y1="460.8" x2="544.65" y2="483.6" stroke="#4a4a4a" stroke-width="1.1" />
<line x1="541.35" y1="460.8" x2="547.95" y2="460.8" stroke="#222" stroke-width="1.1" />
<line x1="541.35" y1="483.6" x2="547.95" y2="483.6" stroke="#222" stroke-width="1.1" />
<line x1="577.42" y1="454.0" x2="577.42" y2="479.2" stroke="#4a4a4a" stroke-width="1.1" />
<line x1="574.12" y1="454.0" x2="580.72" y2="454.0" stroke="#222" stroke-width="1.1" />
<line x1="574.12" y1="479.2" x2="580.72" y2="479.2" stroke="#222" stroke-width="1.1" />
<line x1="380.8" y1="499.2" x2="380.8" y2="528.4" stroke="#4a4a4a" stroke-width="1.1" />
<line x1="377.5" y1="499.2" x2="384.1" y2="499.2" stroke="#222" stroke-width="1.1" />
<line x1="377.5" y1="528.4" x2="384.1" y2="528.4" stroke="#222" stroke-width="1.1" />
<line x1="413.57" y1="485.1" x2="413.57" y2="519.1" stroke="#4a4a4a" stroke-width="1.1" />
<line x1="410.27" y1="485.1" x2="416.87" y2="485.1" stroke="#222" stroke-width="1.1" />
<line x1="410.27" y1="519.1" x2="416.87" y2="519.1" stroke="#222" stroke-width="1.1" />
<line x1="446.34" y1="482.7" x2="446.34" y2="514.1" stroke="#4a4a4a" stroke-width="1.1" />
<line x1="443.04" y1="482.7" x2="449.64" y2="482.7" stroke="#222" stroke-width="1.1" />
<line x1="443.04" y1="514.1" x2="449.64" y2="514.1" stroke="#222" stroke-width="1.1" />
<line x1="479.11" y1="479.0" x2="479.11" y2="509.8" stroke="#4a4a4a" stroke-width="1.1" />
<line x1="475.81" y1="479.0" x2="482.41" y2="479.0" stroke="#222" stroke-width="1.1" />
<line x1="475.81" y1="509.8" x2="482.41" y2="509.8" stroke="#222" stroke-width="1.1" />
<line x1="511.88" y1="471.7" x2="511.88" y2="504.5" stroke="#4a4a4a" stroke-width="1.1" />
<line x1="508.58" y1="471.7" x2="515.18" y2="471.7" stroke="#222" stroke-width="1.1" />
<line x1="508.58" y1="504.5" x2="515.18" y2="504.5" stroke="#222" stroke-width="1.1" />
<line x1="544.65" y1="467.2" x2="544.65" y2="490.4" stroke="#4a4a4a" stroke-width="1.1" />
<line x1="541.35" y1="467.2" x2="547.95" y2="467.2" stroke="#222" stroke-width="1.1" />
<line x1="541.35" y1="490.4" x2="547.95" y2="490.4" stroke="#222" stroke-width="1.1" />
<line x1="577.42" y1="457.5" x2="577.42" y2="486.9" stroke="#4a4a4a" stroke-width="1.1" />
<line x1="574.12" y1="457.5" x2="580.72" y2="457.5" stroke="#222" stroke-width="1.1" />
<line x1="574.12" y1="486.9" x2="580.72" y2="486.9" stroke="#222" stroke-width="1.1" />
<line x1="380.8" y1="502.0" x2="380.8" y2="530.2" stroke="#4a4a4a" stroke-width="1.1" />
<line x1="377.5" y1="502.0" x2="384.1" y2="502.0" stroke="#222" stroke-width="1.1" />
<line x1="377.5" y1="530.2" x2="384.1" y2="530.2" stroke="#222" stroke-width="1.1" />
<line x1="413.57" y1="490.5" x2="413.57" y2="511.5" stroke="#4a4a4a" stroke-width="1.1" />
<line x1="410.27" y1="490.5" x2="416.87" y2="490.5" stroke="#222" stroke-width="1.1" />
<line x1="410.27" y1="511.5" x2="416.87" y2="511.5" stroke="#222" stroke-width="1.1" />
<line x1="446.34" y1="486.6" x2="446.34" y2="506.6" stroke="#4a4a4a" stroke-width="1.1" />
<line x1="443.04" y1="486.6" x2="449.64" y2="486.6" stroke="#222" stroke-width="1.1" />
<line x1="443.04" y1="506.6" x2="449.64" y2="506.6" stroke="#222" stroke-width="1.1" />
<line x1="479.11" y1="475.4" x2="479.11" y2="499.8" stroke="#4a4a4a" stroke-width="1.1" />
<line x1="475.81" y1="475.4" x2="482.41" y2="475.4" stroke="#222" stroke-width="1.1" />
<line x1="475.81" y1="499.8" x2="482.41" y2="499.8" stroke="#222" stroke-width="1.1" />
<line x1="511.88" y1="476.9" x2="511.88" y2="495.5" stroke="#4a4a4a" stroke-width="1.1" />
<line x1="508.58" y1="476.9" x2="515.18" y2="476.9" stroke="#222" stroke-width="1.1" />
<line x1="508.58" y1="495.5" x2="515.18" y2="495.5" stroke="#222" stroke-width="1.1" />
<line x1="544.65" y1="464.3" x2="544.65" y2="486.3" stroke="#4a4a4a" stroke-width="1.1" />
<line x1="541.35" y1="464.3" x2="547.95" y2="464.3" stroke="#222" stroke-width="1.1" />
<line x1="541.35" y1="486.3" x2="547.95" y2="486.3" stroke="#222" stroke-width="1.1" />
<line x1="577.42" y1="459.0" x2="577.42" y2="484.6" stroke="#4a4a4a" stroke-width="1.1" />
<line x1="574.12" y1="459.0" x2="580.72" y2="459.0" stroke="#222" stroke-width="1.1" />
<line x1="574.12" y1="484.6" x2="580.72" y2="484.6" stroke="#222" stroke-width="1.1" />
<rect x="364.8" y="415.2" width="229.2" height="137.7" fill="none" stroke="#231f20" stroke-width="1.8"/>
<line x1="357.8" y1="552.9" x2="364.8" y2="552.9" stroke="#231f20" stroke-width="1.6" />
<text x="356.6" y="556.5" font-size="10" text-anchor="end" font-weight="normal" fill="#333" font-family='"Liberation Sans", sans-serif' >300</text>
<line x1="357.8" y1="518.48" x2="364.8" y2="518.48" stroke="#231f20" stroke-width="1.6" />
<text x="356.6" y="522.08" font-size="10" text-anchor="end" font-weight="normal" fill="#333" font-family='"Liberation Sans", sans-serif' >350</text>
<line x1="357.8" y1="484.05" x2="364.8" y2="484.05" stroke="#231f20" stroke-width="1.6" />
<text x="356.6" y="487.65" font-size="10" text-anchor="end" font-weight="normal" fill="#333" font-family='"Liberation Sans", sans-serif' >400</text>
<line x1="357.8" y1="449.62" x2="364.8" y2="449.62" stroke="#231f20" stroke-width="1.6" />
<text x="356.6" y="453.23" font-size="10" text-anchor="end" font-weight="normal" fill="#333" font-family='"Liberation Sans", sans-serif' >450</text>
<line x1="357.8" y1="415.2" x2="364.8" y2="415.2" stroke="#231f20" stroke-width="1.6" />
<text x="356.6" y="418.8" font-size="10" text-anchor="end" font-weight="normal" fill="#333" font-family='"Liberation Sans", sans-serif' >500</text>
<line x1="380.8" y1="552.9" x2="380.8" y2="557.4" stroke="#231f20" stroke-width="1.8" />
<text x="381" y="569.6" font-size="10.5" text-anchor="middle" font-weight="normal" fill="#333" font-family='"Liberation Sans", sans-serif' >w9</text>
<line x1="577.42" y1="552.9" x2="577.42" y2="557.4" stroke="#231f20" stroke-width="1.8" />
<text x="577.5" y="569.6" font-size="10.5" text-anchor="middle" font-weight="normal" fill="#333" font-family='"Liberation Sans", sans-serif' >w15</text>
<line x1="370.3" y1="425.5" x2="385.9" y2="425.5" stroke="#4f4b4d" stroke-width="2.2" />
<text x="395.5" y="429.0" font-size="10.1" text-anchor="start" font-weight="normal" fill="#333" font-family='"Liberation Sans", sans-serif' >HC</text>
<line x1="370.3" y1="437.9" x2="385.9" y2="437.9" stroke="#b8864f" stroke-width="2.2" />
<text x="395.5" y="441.4" font-size="10.1" text-anchor="start" font-weight="normal" fill="#333" font-family='"Liberation Sans", sans-serif' >CUMS</text>
<line x1="370.3" y1="449.6" x2="385.9" y2="449.6" stroke="#e8262a" stroke-width="2.2" />
<text x="395.5" y="453.1" font-size="10.1" text-anchor="start" font-weight="normal" fill="#333" font-family='"Liberation Sans", sans-serif' >Ami</text>
<line x1="370.3" y1="460.8" x2="385.9" y2="460.8" stroke="#f15a22" stroke-width="2.2" />
<text x="395.5" y="464.3" font-size="10.1" text-anchor="start" font-weight="normal" fill="#333" font-family='"Liberation Sans", sans-serif' >Flu</text>
<text x="0" y="0" font-size="10.5" text-anchor="middle" font-weight="normal" fill="#231f20" font-family='"Liberation Sans", sans-serif' transform="translate(328.9,488) rotate(-90)" dominant-baseline="central">Body weight/g</text>
<circle cx="113.4" cy="703.1" r="4.2" fill="#e0301e"/>
<circle cx="108.2" cy="708.6" r="4.2" fill="#e0301e"/>
<circle cx="129.2" cy="708.9" r="4.2" fill="#e0301e"/>
<circle cx="131.8" cy="711.2" r="4.2" fill="#e0301e"/>
<circle cx="117.8" cy="717.1" r="4.2" fill="#e0301e"/>
<circle cx="125.2" cy="722.9" r="4.2" fill="#e0301e"/>
<circle cx="171.2" cy="706.3" r="4.2" fill="#e0301e"/>
<circle cx="187.2" cy="702.6" r="4.2" fill="#e0301e"/>
<circle cx="87.2" cy="722.9" r="4.2" fill="#e0301e"/>
<circle cx="93.3" cy="725.2" r="4.2" fill="#e0301e"/>
<circle cx="90.6" cy="731.5" r="4.2" fill="#e0301e"/>
<polygon points="109.15,680.95 120.85,680.95 115.00,670.85" fill="#2f4ba6"/>
<polygon points="105.15,694.25 116.85,694.25 111.00,684.15" fill="#2f4ba6"/>
<polygon points="97.45,704.35 109.15,704.35 103.30,694.25" fill="#2f4ba6"/>
<polygon points="75.15,718.65 86.85,718.65 81.00,708.55" fill="#2f4ba6"/>
<polygon points="140.25,684.95 151.95,684.95 146.10,674.85" fill="#2f4ba6"/>
<polygon points="171.75,665.15 183.45,665.15 177.60,655.05" fill="#2f4ba6"/>
<polygon points="180.65,660.15 192.35,660.15 186.50,650.05" fill="#2f4ba6"/>
<polygon points="202.55,658.05 214.25,658.05 208.40,647.95" fill="#2f4ba6"/>
<polygon points="188.55,687.95 200.25,687.95 194.40,677.85" fill="#2f4ba6"/>
<polygon points="171.05,694.95 182.75,694.95 176.90,684.85" fill="#2f4ba6"/>
<polygon points="190.45,713.65 202.15,713.65 196.30,703.55" fill="#2f4ba6"/>
<polygon points="259.15,808.95 270.85,808.95 265.00,798.85" fill="#2f4ba6"/>
<ellipse cx="163.6" cy="692" rx="80.5" ry="52" transform="rotate(24.5 163.6 692)" fill="rgba(47,75,166,0.2)" stroke="#3452b0" stroke-width="1.2"/>
<ellipse cx="122.2" cy="713.8" rx="45" ry="11.9" transform="rotate(-11.9 122.2 713.8)" fill="rgba(224,48,30,0.2)" stroke="#d83a30" stroke-width="1.2"/>
<rect x="65.7" y="621" width="223.8" height="202.5" fill="none" stroke="#333" stroke-width="1.3"/>
<line x1="59.7" y1="634.9" x2="65.7" y2="634.9" stroke="#333" stroke-width="1.3" />
<text x="0" y="0" font-size="12.7" text-anchor="end" font-weight="normal" fill="#333" font-family='"Liberation Serif", serif' transform="translate(57.9,639.2) scale(0.88,1)">0. 2</text>
<line x1="59.7" y1="669.4" x2="65.7" y2="669.4" stroke="#333" stroke-width="1.3" />
<text x="0" y="0" font-size="12.7" text-anchor="end" font-weight="normal" fill="#333" font-family='"Liberation Serif", serif' transform="translate(57.9,673.7) scale(0.88,1)">0. 1</text>
<line x1="59.7" y1="703.3" x2="65.7" y2="703.3" stroke="#333" stroke-width="1.3" />
<text x="0" y="0" font-size="12.7" text-anchor="end" font-weight="normal" fill="#333" font-family='"Liberation Serif", serif' transform="translate(57.9,707.6) scale(0.88,1)">−0. 0</text>
<line x1="59.7" y1="737.7" x2="65.7" y2="737.7" stroke="#333" stroke-width="1.3" />
<text x="0" y="0" font-size="12.7" text-anchor="end" font-weight="normal" fill="#333" font-family='"Liberation Serif", serif' transform="translate(57.9,742.0) scale(0.88,1)">−0. 1</text>
<line x1="59.7" y1="771.7" x2="65.7" y2="771.7" stroke="#333" stroke-width="1.3" />
<text x="0" y="0" font-size="12.7" text-anchor="end" font-weight="normal" fill="#333" font-family='"Liberation Serif", serif' transform="translate(57.9,776.0) scale(0.88,1)">−0. 2</text>
<line x1="59.7" y1="806" x2="65.7" y2="806" stroke="#333" stroke-width="1.3" />
<text x="0" y="0" font-size="12.7" text-anchor="end" font-weight="normal" fill="#333" font-family='"Liberation Serif", serif' transform="translate(57.9,810.3) scale(0.88,1)">−0. 3</text>
<line x1="80" y1="823.5" x2="80" y2="829.5" stroke="#333" stroke-width="1.3" />
<text x="76.6" y="842.2" font-size="11.6" text-anchor="middle" font-weight="normal" fill="#333" font-family='"Liberation Sans", sans-serif' >-0.2</text>
<line x1="111.4" y1="823.5" x2="111.4" y2="829.5" stroke="#333" stroke-width="1.3" />
<text x="110.4" y="842.2" font-size="11.6" text-anchor="middle" font-weight="normal" fill="#333" font-family='"Liberation Sans", sans-serif' >-0.1</text>
<line x1="142.8" y1="823.5" x2="142.8" y2="829.5" stroke="#333" stroke-width="1.3" />
<text x="143.3" y="842.2" font-size="11.6" text-anchor="middle" font-weight="normal" fill="#333" font-family='"Liberation Sans", sans-serif' >0.0</text>
<line x1="174.6" y1="823.5" x2="174.6" y2="829.5" stroke="#333" stroke-width="1.3" />
<text x="175.2" y="842.2" font-size="11.6" text-anchor="middle" font-weight="normal" fill="#333" font-family='"Liberation Sans", sans-serif' >0.1</text>
<line x1="205.9" y1="823.5" x2="205.9" y2="829.5" stroke="#333" stroke-width="1.3" />
<text x="206.5" y="842.2" font-size="11.6" text-anchor="middle" font-weight="normal" fill="#333" font-family='"Liberation Sans", sans-serif' >0.2</text>
<line x1="237.4" y1="823.5" x2="237.4" y2="829.5" stroke="#333" stroke-width="1.3" />
<text x="238.0" y="842.2" font-size="11.6" text-anchor="middle" font-weight="normal" fill="#333" font-family='"Liberation Sans", sans-serif' >0.3</text>
<line x1="268.9" y1="823.5" x2="268.9" y2="829.5" stroke="#333" stroke-width="1.3" />
<text x="269.8" y="842.2" font-size="11.6" text-anchor="middle" font-weight="normal" fill="#333" font-family='"Liberation Sans", sans-serif' >0.4</text>
<text x="107.5" y="614.2" font-size="13.8" text-anchor="start" font-weight="normal" fill="#222" font-family='"Liberation Sans", sans-serif' >Weighted UniFrac, PCoA</text>
<text x="170.8" y="859.5" font-size="11.5" text-anchor="middle" font-weight="normal" fill="#222" font-family='"Liberation Sans", sans-serif' >PC1(56.62%)</text>
<text x="0" y="0" font-size="11.8" text-anchor="middle" font-weight="normal" fill="#222" font-family='"Liberation Sans", sans-serif' transform="translate(15.2,724.5) rotate(-90)" dominant-baseline="central">PC2(20.12%)</text>
<circle cx="388.7" cy="660.3" r="4.2" fill="#e0301e"/>
<circle cx="400.7" cy="694.3" r="4.2" fill="#e0301e"/>
<circle cx="394.8" cy="700.2" r="4.2" fill="#e0301e"/>
<circle cx="404" cy="703.1" r="4.2" fill="#e0301e"/>
<circle cx="390.6" cy="713.8" r="4.2" fill="#e0301e"/>
<circle cx="403.1" cy="723.5" r="4.2" fill="#e0301e"/>
<circle cx="416.1" cy="726.5" r="4.2" fill="#e0301e"/>
<circle cx="377.7" cy="730.2" r="4.2" fill="#e0301e"/>
<circle cx="429.2" cy="747.5" r="4.2" fill="#e0301e"/>
<circle cx="388.9" cy="755.4" r="4.2" fill="#e0301e"/>
<circle cx="414.5" cy="757.8" r="4.2" fill="#e0301e"/>
<polygon points="397.15,718.85 408.85,718.85 403.00,708.75" fill="#2f4ba6"/>
<polygon points="545.15,640.25 556.85,640.25 551.00,630.15" fill="#2f4ba6"/>
<polygon points="510.55,665.45 522.25,665.45 516.40,655.35" fill="#2f4ba6"/>
<polygon points="499.55,685.75 511.25,685.75 505.40,675.65" fill="#2f4ba6"/>
<polygon points="507.75,690.45 519.45,690.45 513.60,680.35" fill="#2f4ba6"/>
<polygon points="455.15,705.15 466.85,705.15 461.00,695.05" fill="#2f4ba6"/>
<polygon points="516.35,713.85 528.05,713.85 522.20,703.75" fill="#2f4ba6"/>
<polygon points="503.55,738.85 515.25,738.85 509.40,728.75" fill="#2f4ba6"/>
<polygon points="502.55,743.75 514.25,743.75 508.40,733.65" fill="#2f4ba6"/>
<polygon points="536.45,736.05 548.15,736.05 542.30,725.95" fill="#2f4ba6"/>
<polygon points="528.75,758.15 540.45,758.15 534.60,748.05" fill="#2f4ba6"/>
<polygon points="547.15,810.35 558.85,810.35 553.00,800.25" fill="#2f4ba6"/>
<ellipse cx="401.1" cy="718" rx="19" ry="41.6" transform="rotate(-12.8 401.1 718)" fill="rgba(224,48,30,0.2)" stroke="#e0402e" stroke-width="1.2"/>
<ellipse cx="510" cy="711.7" rx="58.5" ry="66.8" transform="rotate(-30.4 510 711.7)" fill="rgba(47,75,166,0.2)" stroke="#3452b0" stroke-width="1.2"/>
<rect x="362.4" y="618.6" width="231.1" height="204.2" fill="none" stroke="#333" stroke-width="1.3"/>
<line x1="356.4" y1="628.9" x2="362.4" y2="628.9" stroke="#333" stroke-width="1.3" />
<text x="354.9" y="633.5" font-size="12.2" text-anchor="end" font-weight="normal" fill="#333" font-family='"Liberation Sans", sans-serif' >0.10</text>
<line x1="356.4" y1="672.1" x2="362.4" y2="672.1" stroke="#333" stroke-width="1.3" />
<text x="354.9" y="676.7" font-size="12.2" text-anchor="end" font-weight="normal" fill="#333" font-family='"Liberation Sans", sans-serif' >0.05</text>
<line x1="356.4" y1="715" x2="362.4" y2="715" stroke="#333" stroke-width="1.3" />
<text x="354.9" y="719.6" font-size="12.2" text-anchor="end" font-weight="normal" fill="#333" font-family='"Liberation Sans", sans-serif' >0.00</text>
<line x1="356.4" y1="758" x2="362.4" y2="758" stroke="#333" stroke-width="1.3" />
<text x="354.9" y="762.6" font-size="12.2" text-anchor="end" font-weight="normal" fill="#333" font-family='"Liberation Sans", sans-serif' >-0.05</text>
<line x1="356.4" y1="800.9" x2="362.4" y2="800.9" stroke="#333" stroke-width="1.3" />
<text x="354.9" y="805.5" font-size="12.2" text-anchor="end" font-weight="normal" fill="#333" font-family='"Liberation Sans", sans-serif' >-0.10</text>
<line x1="370.1" y1="822.8" x2="370.1" y2="828.8" stroke="#333" stroke-width="1.3" />
<text x="371.3" y="841.5" font-size="11.6" text-anchor="middle" font-weight="normal" fill="#333" font-family='"Liberation Sans", sans-serif' >-0.10</text>
<line x1="413.0" y1="822.8" x2="413.0" y2="828.8" stroke="#333" stroke-width="1.3" />
<text x="416.0" y="841.5" font-size="11.6" text-anchor="middle" font-weight="normal" fill="#333" font-family='"Liberation Sans", sans-serif' >-0.05</text>
<line x1="455.8" y1="822.8" x2="455.8" y2="828.8" stroke="#333" stroke-width="1.3" />
<text x="460.6" y="841.5" font-size="11.6" text-anchor="middle" font-weight="normal" fill="#333" font-family='"Liberation Sans", sans-serif' >0.00</text>
<line x1="498.7" y1="822.8" x2="498.7" y2="828.8" stroke="#333" stroke-width="1.3" />
<text x="503.5" y="841.5" font-size="11.6" text-anchor="middle" font-weight="normal" fill="#333" font-family='"Liberation Sans", sans-serif' >0.05</text>
<line x1="541.5" y1="822.8" x2="541.5" y2="828.8" stroke="#333" stroke-width="1.3" />
<text x="546.0" y="841.5" font-size="11.6" text-anchor="middle" font-weight="normal" fill="#333" font-family='"Liberation Sans", sans-serif' >0.10</text>
<line x1="584.4" y1="822.8" x2="584.4" y2="828.8" stroke="#333" stroke-width="1.3" />
<text x="589.0" y="841.5" font-size="11.6" text-anchor="middle" font-weight="normal" fill="#333" font-family='"Liberation Sans", sans-serif' >0.15</text>
<text x="402.5" y="616.2" font-size="13.8" text-anchor="start" font-weight="normal" fill="#222" font-family='"Liberation Sans", sans-serif' >Unweighted UniFrac, PCoA</text>
<text x="486" y="858.7" font-size="11.5" text-anchor="middle" font-weight="normal" fill="#222" font-family='"Liberation Sans", sans-serif' >PC1(30.18%)</text>
<text x="0" y="0" font-size="11.8" text-anchor="middle" font-weight="normal" fill="#222" font-family='"Liberation Sans", sans-serif' transform="translate(312.4,713.3) rotate(-90)" dominant-baseline="central">PC2(10.09%)</text>
<circle cx="613.8" cy="624.8" r="4.6" fill="#e0301e"/>
<text x="622.5" y="628.8" font-size="12.6" text-anchor="start" font-weight="normal" fill="#222" font-family='"Liberation Sans", sans-serif' >HC</text>
<polygon points="607.95,649.85 619.65,649.85 613.80,639.75" fill="#2f4ba6"/>
<text x="622.5" y="648.6" font-size="12.6" text-anchor="start" font-weight="normal" fill="#222" font-family='"Liberation Sans", sans-serif' >CUMS</text>
<text x="0" y="12.1" font-size="14.5" text-anchor="start" font-weight="normal" fill="#111" font-family='"Liberation Sans", sans-serif' >a</text>
<text x="164.3" y="10.8" font-size="14.5" text-anchor="start" font-weight="normal" fill="#111" font-family='"Liberation Sans", sans-serif' >b</text>
<text x="337.5" y="10.9" font-size="14.5" text-anchor="start" font-weight="normal" fill="#111" font-family='"Liberation Sans", sans-serif' >c</text>
<text x="492.8" y="10.8" font-size="14.5" text-anchor="start" font-weight="normal" fill="#111" font-family='"Liberation Sans", sans-serif' >d</text>
<text x="0.9" y="201.9" font-size="14.5" text-anchor="start" font-weight="normal" fill="#111" font-family='"Liberation Sans", sans-serif' >e</text>
<text x="164.6" y="201.9" font-size="14.5" text-anchor="start" font-weight="normal" fill="#111" font-family='"Liberation Sans", sans-serif' >f</text>
<text x="337.1" y="201.7" font-size="14.5" text-anchor="start" font-weight="normal" fill="#111" font-family='"Liberation Sans", sans-serif' >g</text>
<text x="0.6" y="405" font-size="14.5" text-anchor="start" font-weight="normal" fill="#111" font-family='"Liberation Sans", sans-serif' >h</text>
<text x="340" y="404.9" font-size="14.5" text-anchor="start" font-weight="normal" fill="#111" font-family='"Liberation Sans", sans-serif' >i</text>
<text x="1.1" y="613.9" font-size="14.5" text-anchor="start" font-weight="normal" fill="#111" font-family='"Liberation Sans", sans-serif' >j</text>
<text x="334.9" y="613.7" font-size="14.5" text-anchor="start" font-weight="normal" fill="#111" font-family='"Liberation Sans", sans-serif' >k</text>
</svg>
</body></html>
